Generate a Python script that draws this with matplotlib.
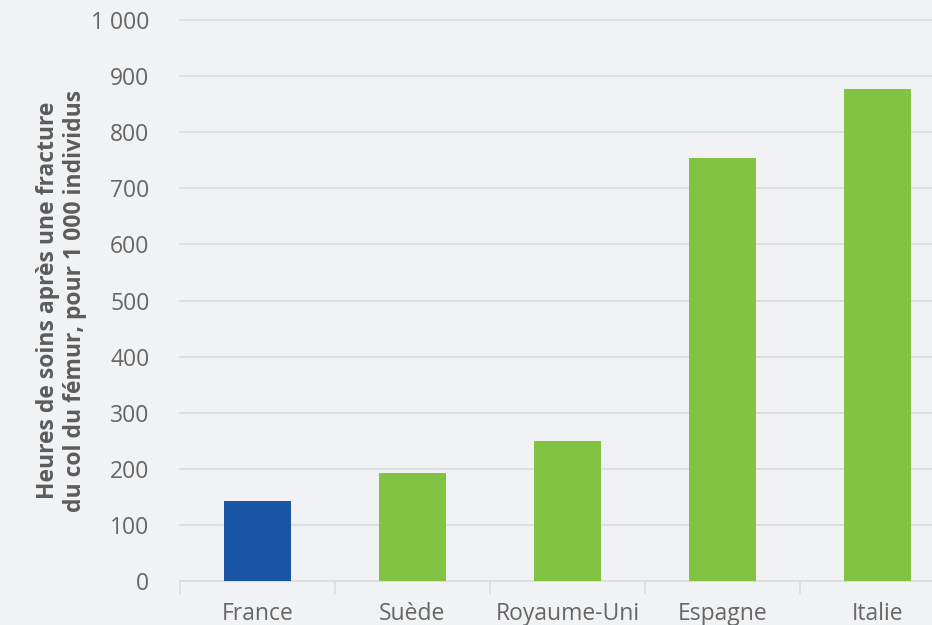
import matplotlib.pyplot as plt
from matplotlib.ticker import FixedLocator, FuncFormatter

# Data
countries = ["France", "Suède", "Royaume-Uni", "Espagne", "Italie"]
hours = [143, 193, 250, 754, 877]
colors = ["#1a55a3", "#82c341", "#82c341", "#82c341", "#82c341"]
y_ticks = [0, 100, 200, 300, 400, 500, 600, 700, 800, 900, 1000]

BG = "#f1f2f4"
GRID = "#dcdde0"
TXT = "#666666"

plt.rcParams["font.family"] = ["Open Sans", "DejaVu Sans"]

fig = plt.figure(figsize=(9.32, 6.25), dpi=100, facecolor=BG)
ax = fig.add_axes([180 / 932, 44 / 625, 775 / 932, 561 / 625], facecolor=BG)

x = list(range(len(countries)))
ax.bar(x, hours, width=0.43, color=colors, zorder=3)

ax.set_xlim(-0.5, len(countries) - 0.5)
ax.set_ylim(0, 1000)

ax.set_yticks(y_ticks)
ax.yaxis.set_major_formatter(FuncFormatter(lambda v, p: f"{int(v):,}".replace(",", " ")))
ax.tick_params(axis="y", length=0, pad=22, labelsize=16.5, labelcolor=TXT)
ax.grid(axis="y", color=GRID, linewidth=1.3, zorder=0, clip_on=False)

ax.set_xticks(x)
ax.set_xticklabels(countries)
ax.tick_params(axis="x", which="major", length=0, pad=15, labelsize=16.5, labelcolor=TXT)
ax.xaxis.set_minor_locator(FixedLocator([i - 0.5 for i in range(len(countries) + 1)]))
ax.tick_params(axis="x", which="minor", length=9, width=1.2, color=GRID)

for s in ["top", "right", "left"]:
    ax.spines[s].set_visible(False)
ax.spines["bottom"].set_color(GRID)
ax.spines["bottom"].set_linewidth(1.3)

ax.set_ylabel("Heures de soins après une fracture\ndu col du fémur, pour 1 000 individus",
              fontsize=16.5, fontweight="bold", color="#5c5c5c", labelpad=3,
              linespacing=1.15)

fig.savefig("out.png", dpi=100, facecolor=BG)
